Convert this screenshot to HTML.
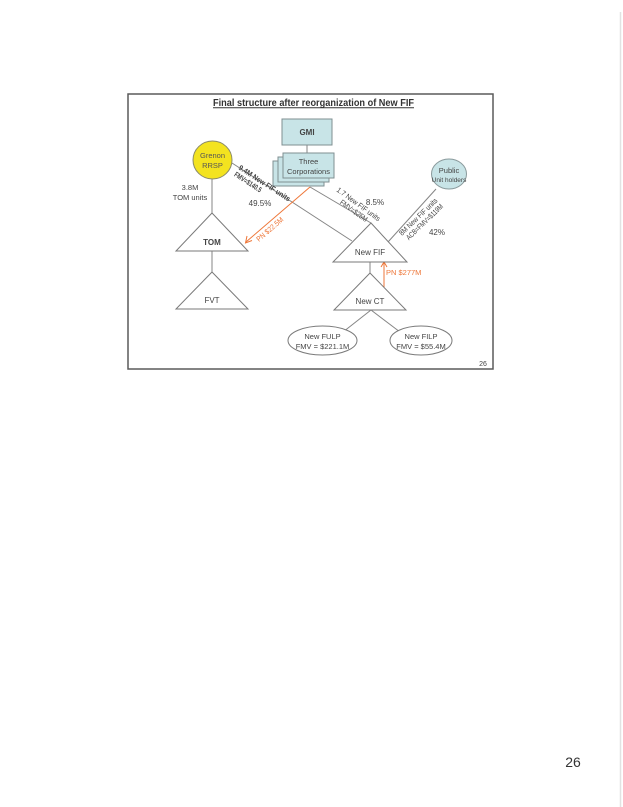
<!DOCTYPE html>
<html>
<head>
<meta charset="utf-8">
<style>
html,body{margin:0;padding:0;background:#fff;}
svg{display:block;}
text{font-family:"Liberation Sans",Arial,sans-serif;fill:#444;}
</style>
</head>
<body>
<svg width="623" height="807" viewBox="0 0 623 807" xmlns="http://www.w3.org/2000/svg">
<rect x="0" y="0" width="623" height="807" fill="#fff"/>
<line x1="620.5" y1="12" x2="620.5" y2="807" stroke="#e2e2e2" stroke-width="1.5"/>

<!-- frame -->
<rect x="128" y="94" width="365" height="275" fill="#fff" stroke="#5a5a5a" stroke-width="1.5"/>

<!-- title -->
<text x="313.5" y="106" font-size="10" font-weight="bold" text-anchor="middle" textLength="201" lengthAdjust="spacingAndGlyphs" style="fill:#333">Final structure after reorganization of New FIF</text>
<line x1="213" y1="107.8" x2="414" y2="107.8" stroke="#333" stroke-width="1"/>

<!-- connectors -->
<g stroke="#858585" stroke-width="1" fill="none">
<line x1="307" y1="145" x2="307" y2="153"/>
<line x1="212" y1="179" x2="212" y2="214"/>
<line x1="212" y1="251" x2="212" y2="272"/>
<line x1="232" y1="163" x2="352" y2="241"/>
<line x1="310" y1="187" x2="371" y2="223"/>
<line x1="436" y1="189" x2="388" y2="242"/>
<line x1="370" y1="262" x2="370" y2="273"/>
<line x1="371" y1="310" x2="343" y2="332"/>
<line x1="371" y1="310" x2="400" y2="332"/>
</g>

<!-- orange arrows -->
<g stroke="#ee7638" stroke-width="1" fill="none">
<line x1="310" y1="187" x2="246" y2="242"/>
<polyline points="247,236 245.5,243 252,240.5"/>
<line x1="384" y1="287" x2="384" y2="263"/>
<polyline points="381,267 384,262 387,267"/>
</g>

<!-- GMI -->
<rect x="282" y="119" width="50" height="26" fill="#c8e4e7" stroke="#7f8f92" stroke-width="1"/>
<text x="307" y="135" font-size="8" font-weight="bold" text-anchor="middle">GMI</text>

<!-- three corporations stack -->
<rect x="273" y="161" width="51" height="25" fill="#c8e4e7" stroke="#7f8f92" stroke-width="1"/>
<rect x="278" y="157" width="51" height="25" fill="#c8e4e7" stroke="#7f8f92" stroke-width="1"/>
<rect x="283" y="153" width="51" height="25" fill="#c8e4e7" stroke="#7f8f92" stroke-width="1"/>
<text x="308.5" y="164" font-size="7.5" text-anchor="middle">Three</text>
<text x="308.5" y="174" font-size="7.5" text-anchor="middle">Corporations</text>

<!-- Grenon RRSP -->
<ellipse cx="212.5" cy="160" rx="19.5" ry="19" fill="#f3e31f" stroke="#8a8a6a" stroke-width="1"/>
<text x="212.5" y="158" font-size="7.5" text-anchor="middle" style="fill:#555">Grenon</text>
<text x="212.5" y="168" font-size="7.5" text-anchor="middle" style="fill:#555">RRSP</text>

<!-- Public -->
<ellipse cx="449" cy="174" rx="17.5" ry="15" fill="#c8e4e7" stroke="#8a9a9c" stroke-width="1"/>
<text x="449" y="173" font-size="7.5" text-anchor="middle">Public</text>
<text x="449" y="182" font-size="6.5" text-anchor="middle">Unit holders</text>

<!-- TOM -->
<polygon points="212,213 176,251 248,251" fill="#fff" stroke="#7a7a7a" stroke-width="1"/>
<text x="212" y="245" font-size="8" font-weight="bold" text-anchor="middle">TOM</text>

<!-- FVT -->
<polygon points="212,272 176,309 248,309" fill="#fff" stroke="#7a7a7a" stroke-width="1"/>
<text x="212" y="303" font-size="8" text-anchor="middle">FVT</text>

<!-- New FIF -->
<polygon points="371,223 333,262 407,262" fill="#fff" stroke="#7a7a7a" stroke-width="1"/>
<text x="370" y="255" font-size="8" text-anchor="middle">New FIF</text>

<!-- New CT -->
<polygon points="370,273 334,310 406,310" fill="#fff" stroke="#7a7a7a" stroke-width="1"/>
<text x="370" y="304" font-size="8" text-anchor="middle">New CT</text>

<!-- ellipses -->
<ellipse cx="322.5" cy="340.5" rx="34.5" ry="14.5" fill="#fff" stroke="#7a7a7a" stroke-width="1"/>
<text x="322.5" y="339" font-size="7.5" text-anchor="middle">New FULP</text>
<text x="322.5" y="349" font-size="7.5" text-anchor="middle">FMV = $221.1M</text>
<ellipse cx="421" cy="340.5" rx="31" ry="14.5" fill="#fff" stroke="#7a7a7a" stroke-width="1"/>
<text x="421" y="339" font-size="7.5" text-anchor="middle">New FILP</text>
<text x="421" y="349" font-size="7.5" text-anchor="middle">FMV = $55.4M</text>

<!-- labels -->
<text x="190" y="190" font-size="7.5" text-anchor="middle">3.8M</text>
<text x="190" y="200" font-size="7.5" text-anchor="middle">TOM units</text>

<g transform="translate(238,169) rotate(33)">
<text x="0" y="0" font-size="7.5" font-weight="bold" textLength="60" lengthAdjust="spacingAndGlyphs">9.4M New FIF units</text>
<text x="0" y="8" font-size="7.5" font-weight="bold" textLength="31" lengthAdjust="spacingAndGlyphs">FMV=$140.5</text>
</g>
<text x="260" y="206" font-size="8" text-anchor="middle">49.5%</text>

<g transform="translate(336,191) rotate(36)">
<text x="26" y="0" font-size="7.5" text-anchor="middle" textLength="52" lengthAdjust="spacingAndGlyphs">1.7 New FIF units</text>
<text x="26" y="8" font-size="7.5" text-anchor="middle" textLength="32" lengthAdjust="spacingAndGlyphs">FMV=$25M</text>
</g>
<text x="375" y="205" font-size="8" text-anchor="middle">8.5%</text>

<g transform="translate(402,236) rotate(-44)">
<text x="0" y="0" font-size="7.5" textLength="50" lengthAdjust="spacingAndGlyphs">8M New FIF units</text>
<text x="2" y="8" font-size="7.5" textLength="48" lengthAdjust="spacingAndGlyphs">ACB=FMV=$119M</text>
</g>
<text x="437" y="235" font-size="8" text-anchor="middle">42%</text>

<g transform="translate(259,242) rotate(-41)">
<text x="0" y="0" font-size="7.5" style="fill:#ee7638" textLength="33" lengthAdjust="spacingAndGlyphs">PN $22.5M</text>
</g>
<text x="386" y="275" font-size="7.5" style="fill:#ee7638">PN $277M</text>

<text x="483" y="366" font-size="7" text-anchor="middle">26</text>

<!-- page number -->
<text x="573" y="767" font-size="14" text-anchor="middle" style="fill:#333">26</text>
</svg>
</body>
</html>
